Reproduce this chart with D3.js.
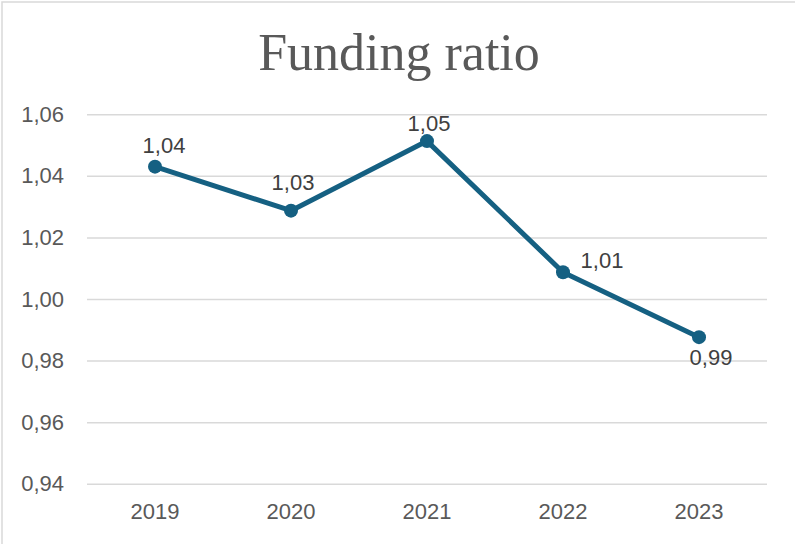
<!DOCTYPE html>
<html>
<head>
<meta charset="utf-8">
<script src="https://cdn.jsdelivr.net/npm/d3@7"></script>
<style>
  html, body { margin: 0; padding: 0; background: #fff; }
  svg { display: block; }
</style>
</head>
<body>
<svg id="chart" width="795" height="544"></svg>
<script>
// ---- data ----
const years = ["2019", "2020", "2021", "2022", "2023"];
const fundingRatio = [1.043, 1.0287, 1.0513, 1.0087, 0.9876];
const dataLabels = ["1,04", "1,03", "1,05", "1,01", "0,99"];
const yTicks = [0.94, 0.96, 0.98, 1.00, 1.02, 1.04, 1.06];
const title = "Funding ratio";

// label placement offsets (style, relative to each point)
const labelOffsets = [[9, -14], [2, -21], [2, -10], [39, -4], [12, 28]];

const svg = d3.select("#chart");
const W = 795, H = 544;

// border
svg.append("rect")
  .attr("x", 2).attr("y", 2)
  .attr("width", W + 10).attr("height", H + 10)
  .attr("fill", "#fff")
  .attr("stroke", "#d9d9d9").attr("stroke-width", 1.5);

const x = d3.scaleBand().domain(years).range([87, 767]).padding(0);
const y = d3.scaleLinear().domain([0.94, 1.06]).range([483.7, 114.3]);

const fmt = d => d3.format(".2f")(d).replace(".", ",");

// title
svg.append("text")
  .attr("x", 399).attr("y", 70)
  .attr("text-anchor", "middle")
  .attr("font-family", "'Liberation Serif', 'Times New Roman', serif")
  .attr("font-size", 52)
  .attr("fill", "#595959")
  .text(title);

// gridlines + y labels via axis
const yAxis = d3.axisLeft(y).tickValues(yTicks).tickSize(-(767 - 87)).tickPadding(23).tickFormat(fmt);
const gy = svg.append("g").attr("transform", "translate(87,0)").call(yAxis);
gy.select(".domain").remove();
gy.selectAll(".tick line").attr("stroke", "#d9d9d9").attr("stroke-width", 1.5);
gy.selectAll(".tick text")
  .attr("font-family", "'Liberation Sans', Arial, sans-serif")
  .attr("font-size", 22)
  .attr("fill", "#595959");

// x labels via axis
const xAxis = d3.axisBottom(x).tickSize(0).tickPadding(20);
const gx = svg.append("g").attr("transform", "translate(0,483.7)").call(xAxis);
gx.select(".domain").remove();
gx.selectAll(".tick text")
  .attr("font-family", "'Liberation Sans', Arial, sans-serif")
  .attr("font-size", 22)
  .attr("fill", "#595959");

const cx = (d, i) => x(years[i]) + x.bandwidth() / 2;

// line
const line = d3.line()
  .x((d, i) => cx(d, i))
  .y(d => y(d));
svg.append("path")
  .datum(fundingRatio)
  .attr("d", line)
  .attr("fill", "none")
  .attr("stroke", "#156082")
  .attr("stroke-width", 5)
  .attr("stroke-linejoin", "round");

// markers
svg.selectAll("circle.pt")
  .data(fundingRatio)
  .enter().append("circle")
  .attr("class", "pt")
  .attr("cx", cx)
  .attr("cy", d => y(d))
  .attr("r", 7)
  .attr("fill", "#156082");

// data labels
svg.selectAll("text.lbl")
  .data(fundingRatio)
  .enter().append("text")
  .attr("class", "lbl")
  .attr("x", (d, i) => cx(d, i) + labelOffsets[i][0])
  .attr("y", (d, i) => y(d) + labelOffsets[i][1])
  .attr("text-anchor", "middle")
  .attr("font-family", "'Liberation Sans', Arial, sans-serif")
  .attr("font-size", 22)
  .attr("fill", "#404040")
  .text((d, i) => dataLabels[i]);
</script>
</body>
</html>
